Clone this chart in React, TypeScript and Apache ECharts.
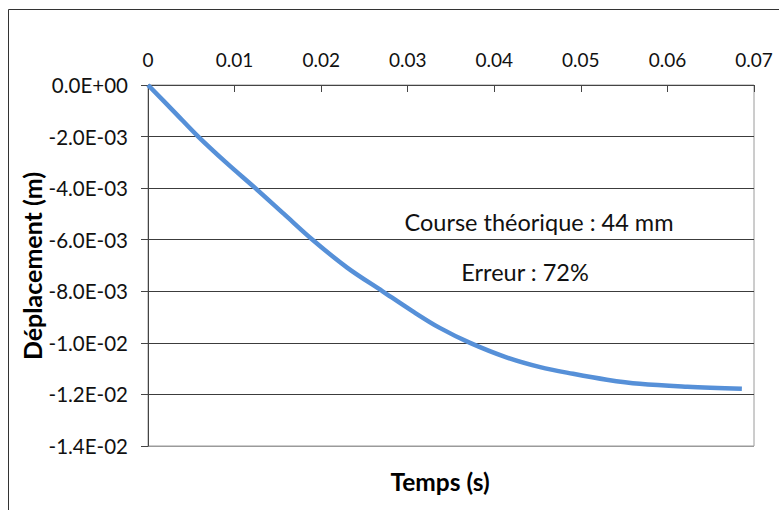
import React, { useEffect, useRef } from "react";
import * as echarts from "echarts";

const timeValues = [0, 0.003, 0.0058, 0.0091, 0.0124, 0.0157, 0.019, 0.023, 0.0271, 0.0305, 0.0337, 0.0372, 0.0414, 0.0453, 0.0491, 0.053, 0.0568, 0.0623, 0.0686];
const displacementValues = [0, -0.00103, -0.002, -0.00303, -0.004, -0.005, -0.006, -0.00708, -0.008, -0.00876, -0.00942, -0.01, -0.01056, -0.01094, -0.0112, -0.01143, -0.01159, -0.0117, -0.01178];
const annotationLines = ["Course théorique : 44 mm", "Erreur : 72%"];
const xTitle = "Temps (s)";
const yTitle = "Déplacement (m)";

const FONT = "Lato, 'Liberation Sans', sans-serif";

function sci(v: number): string {
  const s = v.toExponential(1);
  const [mant, exp] = s.split("e");
  const n = parseInt(exp, 10);
  const sign = n < 0 ? "-" : "+";
  const abs = Math.abs(n).toString().padStart(2, "0");
  return `${mant}E${sign}${abs}`;
}

export default function App() {
  const ref = useRef<HTMLDivElement>(null);
  useEffect(() => {
    if (!ref.current) return;
    const chart = echarts.init(ref.current, null, { renderer: "svg" });
    const data = timeValues.map((t, i) => [t, displacementValues[i]]);
    chart.setOption({
      animation: false,
      backgroundColor: "#ffffff",
      grid: {
        left: 148,
        top: 85,
        right: 25,
        bottom: 64,
        show: true,
        borderColor: "#9a9a9a",
        borderWidth: 1,
        backgroundColor: "transparent",
      },
      xAxis: {
        type: "value",
        position: "top",
        min: 0,
        max: 0.07,
        interval: 0.01,
        axisLine: { show: true, onZero: false, lineStyle: { color: "#444", width: 1 } },
        axisTick: { show: true, inside: true, length: 7, lineStyle: { color: "#444" } },
        axisLabel: {
          margin: 16,
          fontFamily: FONT,
          fontSize: 19,
          color: "#111",
          formatter: (v: number) => parseFloat(v.toFixed(2)).toString(),
        },
        splitLine: { show: false },
      },
      yAxis: {
        type: "value",
        min: -0.014,
        max: 0,
        interval: 0.002,
        axisLine: { show: true, onZero: false, lineStyle: { color: "#444", width: 1 } },
        axisTick: { show: true, inside: false, length: 7, lineStyle: { color: "#444" } },
        axisLabel: {
          margin: 20,
          fontFamily: FONT,
          fontSize: 20.5,
          color: "#111",
          formatter: (v: number) => sci(v),
        },
        splitLine: {
          show: true,
          lineStyle: {
            color: ["#9a9a9a", "#3c3c3c", "#3c3c3c", "#3c3c3c", "#3c3c3c", "#3c3c3c", "#3c3c3c", "#3c3c3c"],
            width: 1,
          },
        },
      },
      series: [
        {
          type: "line",
          data,
          smooth: 0.35,
          showSymbol: false,
          lineStyle: { color: "#5690d8", width: 4.5 },
          z: 5,
        },
      ],
      graphic: [
        {
          type: "rect",
          shape: { x: 8.5, y: 9.5, width: 900, height: 700 },
          style: { fill: "none", stroke: "#333", lineWidth: 1 },
          silent: true,
          z: 100,
        },
        {
          type: "text",
          x: 539,
          y: 222,
          style: {
            text: annotationLines[0],
            font: `23.5px ${FONT}`,
            fill: "#111",
            align: "center",
            verticalAlign: "middle",
          },
        },
        {
          type: "text",
          x: 525,
          y: 272,
          style: {
            text: annotationLines[1],
            font: `23.5px ${FONT}`,
            fill: "#111",
            align: "center",
            verticalAlign: "middle",
          },
        },
        {
          type: "text",
          x: 440,
          y: 481,
          style: {
            text: xTitle,
            font: `bold 24.5px ${FONT}`,
            fill: "#000",
            align: "center",
            verticalAlign: "middle",
          },
        },
        {
          type: "text",
          x: 32,
          y: 266,
          rotation: Math.PI / 2,
          style: {
            text: yTitle,
            font: `bold 25px ${FONT}`,
            fill: "#000",
            align: "center",
            verticalAlign: "middle",
          },
        },
      ],
    });
    return () => chart.dispose();
  }, []);
  return (
    <div
      ref={ref}
      style={{ position: "absolute", left: 0, top: 0, width: 779, height: 510 }}
    />
  );
}
